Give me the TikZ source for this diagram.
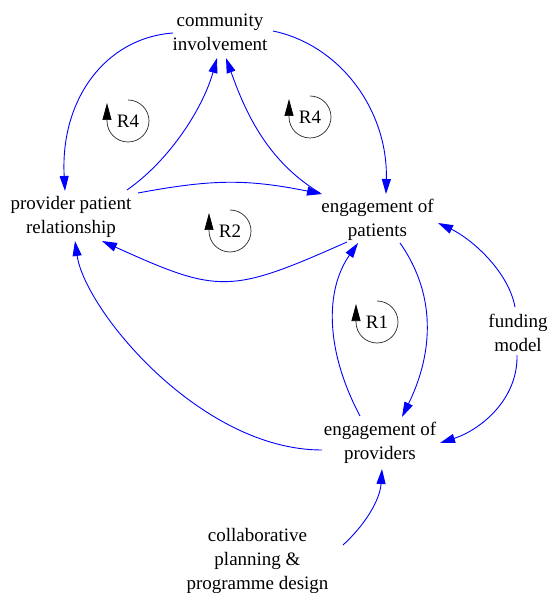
\documentclass[tikz,border=0pt]{standalone}
\usepackage{fontspec}
\setmainfont{Liberation Serif}
\usetikzlibrary{arrows.meta,calc}
\begin{document}
\begin{tikzpicture}[x=1pt,y=-1pt,
  lbl/.style={font=\fontsize{19}{24}\selectfont, align=center, inner sep=0pt, text=black},
  looplbl/.style={font=\fontsize{19}{24}\selectfont, inner sep=0pt, text=black},
  link/.style={draw=blue, line width=0.9pt, -{Triangle[length=15pt,width=9pt]}},
  loopmark/.style={draw=black!85, line width=0.7pt, -{Triangle[length=17pt,width=9pt,color=black]}},
]
\useasboundingbox (0,0) rectangle (547,593);

% variables
\node[lbl] (ci)  at (220,32.5)  {community\\involvement};
\node[lbl] (ppr) at (71,216.6)  {provider patient\\relationship};
\node[lbl] (ep)  at (377.5,219.5) {engagement of\\patients};
\node[lbl] (epr) at (380,442.5) {engagement of\\providers};
\node[lbl] (fm)  at (518,332.5) {funding\\model};
\node[lbl] (cp)  at (257.5,560.5) {collaborative\\planning \&\\programme design};

% links
\draw[link] ($(ci.center)+(-47,0.5)$) .. controls +(-68,5) and +(-5,-91) .. ($(ppr.center)+(-6,-25.6)$);
\draw[link] ($(ci.center)+(53,-1.5)$) .. controls +(67,14) and +(2,-84) .. ($(ep.center)+(8.5,-25.5)$);
\draw[link] ($(ppr.center)+(56,-26.6)$) .. controls +(43,-30) and +(-14,50) .. ($(ci.center)+(-3,25.5)$);
\draw[link] ($(ep.center)+(-57.5,-26.5)$) .. controls +(-55,-33) and +(18,50) .. ($(ci.center)+(6,25.5)$);
\draw[link] ($(ppr.center)+(67,-23.6)$) .. controls +(75,-14) and +(-75,-15) .. ($(ep.center)+(-55.5,-25.5)$);
\draw[link] ($(ep.center)+(-30.5,22.5)$) .. controls +(-117,52) and +(117,53) .. ($(ppr.center)+(31,24.4)$);
\draw[link] ($(epr.center)+(-20,-26.5)$) .. controls +(-35,-66) and +(-33,47) .. ($(ep.center)+(-19.5,23.5)$);
\draw[link] ($(ep.center)+(22.5,23.5)$) .. controls +(40,57) and +(28,-57) .. ($(epr.center)+(22,-25.5)$);
\draw[link] ($(fm.center)+(-3,-25.5)$) .. controls +(-7,-37) and +(32,15) .. ($(ep.center)+(60.5,3.5)$);
\draw[link] ($(fm.center)+(-1,22.5)$) .. controls +(1,45) and +(40,-13) .. ($(epr.center)+(60,0.5)$);
\draw[link] ($(epr.center)+(-58,7.5)$) .. controls +(-122,0) and +(10,69) .. ($(ppr.center)+(4,24.4)$);
\draw[link] ($(cp.center)+(85.5,-15.5)$) .. controls +(22,-20) and +(-2,31) .. ($(epr.center)+(2,26.5)$);

% loop markers
\node[looplbl] (r4a) at (128,121) {R4};
\node[looplbl] (r4b) at (310,117) {R4};
\node[looplbl] (r2)  at (230,231) {R2};
\node[looplbl] (r1)  at (377,322) {R1};
\foreach \n in {r4a,r4b,r2,r1}{
  \draw[loopmark] ($(\n.center)+(0,-21)$) arc[start angle=-90,end angle=180,radius=21] -- ++(0,-18);
}
\end{tikzpicture}
\end{document}
